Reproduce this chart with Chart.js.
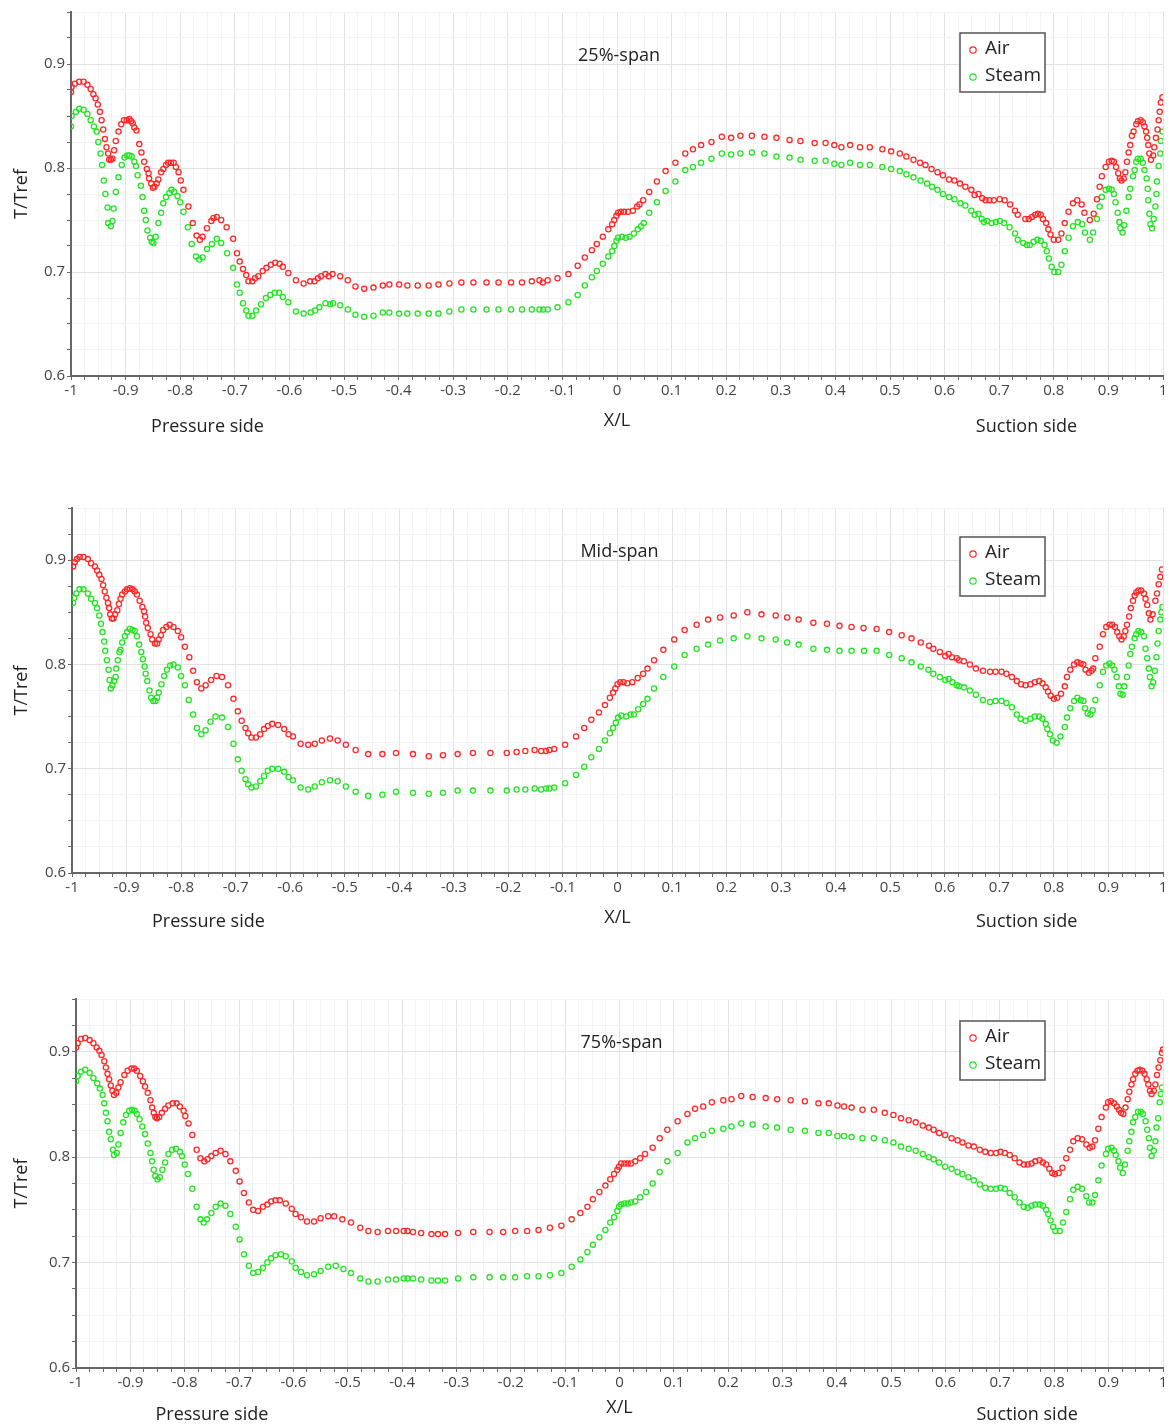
<!DOCTYPE html>
<html>
<head>
<meta charset="utf-8">
<title>T/Tref along the blade surface</title>
<script src="https://cdn.jsdelivr.net/npm/chart.js@4.4.1/dist/chart.umd.min.js"></script>
<style>
  html, body { margin: 0; padding: 0; background: #fff; }
  #page { position: relative; width: 1172px; height: 1428px; overflow: hidden; }
  #page canvas { position: absolute; left: 0; }
</style>
</head>
<body>
<div id="page">
  <canvas id="span25" width="1172" height="438" style="top:0px"></canvas>
  <canvas id="span50" width="1172" height="439" style="top:496px"></canvas>
  <canvas id="span75" width="1172" height="441" style="top:987px"></canvas>
</div>
<script>
// surface temperature ratio, [X/L, T/Tref] pairs, pressure side is X/L < 0
var air25 = [[-1,0.873],[-0.999,0.878],[-0.993,0.881],[-0.985,0.883],[-0.977,0.883],[-0.970,0.880],[-0.964,0.876],[-0.959,0.871],[-0.955,0.867],[-0.951,0.861],[-0.947,0.854],[-0.944,0.846],[-0.941,0.837],[-0.938,0.828],[-0.935,0.820],[-0.932,0.814],[-0.930,0.808],[-0.927,0.808],[-0.924,0.809],[-0.921,0.817],[-0.918,0.826],[-0.913,0.835],[-0.908,0.842],[-0.903,0.846],[-0.898,0.846],[-0.893,0.847],[-0.890,0.845],[-0.887,0.843],[-0.884,0.839],[-0.880,0.836],[-0.875,0.823],[-0.871,0.815],[-0.866,0.806],[-0.861,0.799],[-0.858,0.795],[-0.857,0.790],[-0.853,0.785],[-0.850,0.781],[-0.847,0.782],[-0.843,0.785],[-0.840,0.789],[-0.835,0.796],[-0.831,0.799],[-0.826,0.803],[-0.822,0.805],[-0.817,0.805],[-0.812,0.805],[-0.808,0.801],[-0.803,0.796],[-0.799,0.788],[-0.794,0.779],[-0.785,0.763],[-0.777,0.747],[-0.770,0.735],[-0.764,0.731],[-0.759,0.734],[-0.751,0.742],[-0.743,0.749],[-0.739,0.752],[-0.733,0.753],[-0.725,0.750],[-0.715,0.743],[-0.703,0.732],[-0.696,0.718],[-0.691,0.710],[-0.685,0.703],[-0.679,0.697],[-0.675,0.691],[-0.668,0.691],[-0.663,0.694],[-0.657,0.696],[-0.649,0.701],[-0.642,0.704],[-0.634,0.707],[-0.626,0.709],[-0.618,0.708],[-0.612,0.705],[-0.602,0.699],[-0.588,0.692],[-0.574,0.689],[-0.562,0.691],[-0.554,0.691],[-0.548,0.694],[-0.542,0.696],[-0.534,0.698],[-0.528,0.696],[-0.521,0.698],[-0.507,0.696],[-0.493,0.692],[-0.479,0.686],[-0.463,0.684],[-0.446,0.685],[-0.429,0.687],[-0.417,0.688],[-0.399,0.688],[-0.384,0.687],[-0.365,0.687],[-0.345,0.687],[-0.327,0.688],[-0.307,0.689],[-0.285,0.690],[-0.263,0.690],[-0.239,0.690],[-0.217,0.690],[-0.194,0.690],[-0.174,0.690],[-0.156,0.691],[-0.142,0.692],[-0.136,0.690],[-0.127,0.692],[-0.109,0.694],[-0.089,0.698],[-0.072,0.706],[-0.059,0.714],[-0.046,0.721],[-0.037,0.727],[-0.026,0.734],[-0.016,0.741],[-0.009,0.746],[-0.005,0.750],[-0.001,0.754],[0.002,0.757],[0.007,0.758],[0.013,0.758],[0.020,0.758],[0.029,0.759],[0.037,0.763],[0.041,0.765],[0.048,0.769],[0.059,0.777],[0.073,0.787],[0.089,0.797],[0.107,0.805],[0.125,0.814],[0.139,0.818],[0.154,0.822],[0.173,0.825],[0.192,0.830],[0.209,0.829],[0.226,0.831],[0.247,0.831],[0.270,0.830],[0.292,0.829],[0.316,0.827],[0.336,0.826],[0.362,0.824],[0.382,0.824],[0.398,0.822],[0.411,0.820],[0.427,0.822],[0.445,0.820],[0.463,0.820],[0.486,0.818],[0.502,0.816],[0.518,0.814],[0.530,0.811],[0.543,0.808],[0.555,0.805],[0.565,0.803],[0.576,0.799],[0.587,0.796],[0.597,0.793],[0.608,0.789],[0.618,0.788],[0.628,0.785],[0.638,0.782],[0.649,0.779],[0.655,0.774],[0.662,0.775],[0.669,0.771],[0.675,0.769],[0.682,0.769],[0.690,0.769],[0.701,0.770],[0.710,0.769],[0.720,0.765],[0.729,0.759],[0.734,0.755],[0.748,0.751],[0.754,0.751],[0.760,0.753],[0.766,0.755],[0.771,0.756],[0.776,0.755],[0.780,0.751],[0.786,0.747],[0.790,0.741],[0.794,0.736],[0.800,0.731],[0.808,0.731],[0.814,0.737],[0.820,0.747],[0.827,0.758],[0.835,0.766],[0.843,0.769],[0.851,0.765],[0.856,0.757],[0.866,0.750],[0.873,0.756],[0.879,0.770],[0.884,0.782],[0.888,0.792],[0.895,0.801],[0.901,0.806],[0.906,0.807],[0.910,0.806],[0.914,0.801],[0.918,0.795],[0.921,0.790],[0.924,0.788],[0.928,0.790],[0.931,0.796],[0.934,0.806],[0.937,0.815],[0.940,0.822],[0.943,0.831],[0.946,0.835],[0.951,0.842],[0.954,0.845],[0.959,0.846],[0.963,0.844],[0.966,0.840],[0.969,0.835],[0.971,0.829],[0.973,0.822],[0.975,0.814],[0.978,0.808],[0.982,0.812],[0.984,0.820],[0.987,0.829],[0.990,0.837],[0.992,0.846],[0.994,0.854],[0.996,0.863],[0.999,0.868]];

var steam25 = [[-1,0.840],[-0.999,0.850],[-0.991,0.854],[-0.985,0.857],[-0.977,0.856],[-0.970,0.852],[-0.964,0.846],[-0.958,0.840],[-0.953,0.835],[-0.950,0.825],[-0.946,0.814],[-0.943,0.803],[-0.940,0.788],[-0.937,0.775],[-0.933,0.762],[-0.932,0.747],[-0.927,0.744],[-0.924,0.749],[-0.922,0.761],[-0.918,0.777],[-0.913,0.791],[-0.907,0.803],[-0.902,0.810],[-0.897,0.812],[-0.893,0.812],[-0.889,0.811],[-0.884,0.806],[-0.881,0.802],[-0.878,0.793],[-0.872,0.783],[-0.869,0.772],[-0.866,0.759],[-0.863,0.750],[-0.860,0.740],[-0.855,0.733],[-0.852,0.729],[-0.849,0.728],[-0.845,0.734],[-0.840,0.747],[-0.835,0.757],[-0.831,0.766],[-0.826,0.772],[-0.820,0.776],[-0.816,0.779],[-0.811,0.777],[-0.805,0.773],[-0.800,0.767],[-0.794,0.758],[-0.786,0.743],[-0.779,0.727],[-0.771,0.715],[-0.765,0.712],[-0.759,0.714],[-0.751,0.722],[-0.742,0.727],[-0.733,0.732],[-0.725,0.728],[-0.714,0.718],[-0.703,0.704],[-0.696,0.688],[-0.691,0.680],[-0.685,0.670],[-0.679,0.663],[-0.675,0.658],[-0.668,0.658],[-0.661,0.663],[-0.652,0.669],[-0.643,0.675],[-0.635,0.678],[-0.627,0.680],[-0.619,0.680],[-0.612,0.676],[-0.602,0.671],[-0.588,0.662],[-0.574,0.660],[-0.561,0.661],[-0.553,0.663],[-0.545,0.666],[-0.534,0.670],[-0.525,0.669],[-0.520,0.670],[-0.507,0.668],[-0.493,0.664],[-0.479,0.659],[-0.463,0.657],[-0.446,0.658],[-0.429,0.661],[-0.417,0.661],[-0.399,0.660],[-0.384,0.660],[-0.365,0.660],[-0.345,0.660],[-0.327,0.660],[-0.307,0.662],[-0.285,0.664],[-0.263,0.664],[-0.239,0.664],[-0.217,0.664],[-0.194,0.664],[-0.174,0.664],[-0.156,0.664],[-0.142,0.664],[-0.135,0.664],[-0.127,0.664],[-0.109,0.666],[-0.089,0.671],[-0.072,0.678],[-0.059,0.687],[-0.046,0.695],[-0.037,0.701],[-0.026,0.708],[-0.016,0.715],[-0.009,0.720],[-0.005,0.725],[-0.001,0.730],[0.002,0.733],[0.009,0.734],[0.016,0.733],[0.023,0.734],[0.031,0.737],[0.038,0.741],[0.044,0.744],[0.049,0.747],[0.059,0.757],[0.073,0.767],[0.089,0.778],[0.107,0.787],[0.125,0.798],[0.139,0.801],[0.154,0.805],[0.173,0.809],[0.192,0.814],[0.209,0.813],[0.226,0.814],[0.247,0.815],[0.270,0.814],[0.292,0.811],[0.316,0.810],[0.336,0.808],[0.362,0.807],[0.382,0.807],[0.398,0.804],[0.411,0.803],[0.427,0.805],[0.445,0.803],[0.463,0.803],[0.486,0.801],[0.502,0.799],[0.518,0.797],[0.530,0.794],[0.543,0.791],[0.556,0.788],[0.568,0.785],[0.577,0.782],[0.587,0.779],[0.597,0.775],[0.608,0.772],[0.618,0.770],[0.629,0.766],[0.638,0.764],[0.649,0.759],[0.655,0.755],[0.662,0.756],[0.668,0.751],[0.672,0.748],[0.678,0.749],[0.686,0.747],[0.694,0.748],[0.701,0.749],[0.709,0.747],[0.719,0.743],[0.729,0.737],[0.734,0.731],[0.744,0.728],[0.751,0.726],[0.756,0.726],[0.763,0.729],[0.770,0.731],[0.776,0.730],[0.783,0.726],[0.787,0.720],[0.791,0.713],[0.796,0.705],[0.801,0.700],[0.808,0.700],[0.814,0.707],[0.820,0.720],[0.827,0.733],[0.835,0.744],[0.844,0.748],[0.852,0.746],[0.857,0.738],[0.866,0.731],[0.872,0.738],[0.879,0.751],[0.884,0.763],[0.888,0.772],[0.895,0.779],[0.901,0.780],[0.906,0.779],[0.910,0.775],[0.913,0.767],[0.917,0.757],[0.920,0.748],[0.922,0.742],[0.926,0.738],[0.929,0.745],[0.933,0.759],[0.937,0.772],[0.940,0.780],[0.945,0.792],[0.948,0.798],[0.951,0.806],[0.954,0.809],[0.959,0.809],[0.963,0.805],[0.966,0.798],[0.970,0.790],[0.972,0.780],[0.973,0.769],[0.975,0.756],[0.977,0.746],[0.980,0.742],[0.983,0.751],[0.986,0.763],[0.988,0.775],[0.989,0.787],[0.992,0.802],[0.995,0.814],[0.996,0.826],[0.999,0.835]];

var airMid = [[-0.998,0.894],[-0.995,0.898],[-0.991,0.901],[-0.986,0.903],[-0.979,0.903],[-0.971,0.901],[-0.965,0.897],[-0.958,0.894],[-0.954,0.890],[-0.950,0.886],[-0.946,0.882],[-0.943,0.876],[-0.940,0.870],[-0.937,0.864],[-0.934,0.859],[-0.932,0.854],[-0.930,0.848],[-0.927,0.844],[-0.924,0.844],[-0.921,0.848],[-0.917,0.852],[-0.914,0.858],[-0.911,0.863],[-0.908,0.867],[-0.903,0.870],[-0.899,0.872],[-0.894,0.873],[-0.889,0.872],[-0.885,0.870],[-0.881,0.867],[-0.876,0.861],[-0.871,0.855],[-0.868,0.851],[-0.866,0.846],[-0.864,0.840],[-0.861,0.835],[-0.856,0.829],[-0.853,0.824],[-0.848,0.820],[-0.844,0.820],[-0.841,0.824],[-0.837,0.828],[-0.833,0.833],[-0.827,0.836],[-0.821,0.838],[-0.814,0.836],[-0.806,0.832],[-0.800,0.826],[-0.793,0.817],[-0.785,0.807],[-0.778,0.794],[-0.771,0.783],[-0.763,0.777],[-0.755,0.780],[-0.745,0.785],[-0.735,0.789],[-0.725,0.788],[-0.714,0.780],[-0.704,0.767],[-0.696,0.755],[-0.689,0.746],[-0.682,0.739],[-0.677,0.734],[-0.671,0.730],[-0.663,0.730],[-0.655,0.733],[-0.648,0.738],[-0.641,0.741],[-0.633,0.743],[-0.622,0.742],[-0.611,0.738],[-0.603,0.733],[-0.595,0.731],[-0.581,0.724],[-0.567,0.723],[-0.555,0.724],[-0.542,0.727],[-0.527,0.729],[-0.513,0.727],[-0.498,0.723],[-0.480,0.718],[-0.457,0.714],[-0.431,0.714],[-0.406,0.715],[-0.375,0.714],[-0.346,0.712],[-0.320,0.713],[-0.293,0.714],[-0.265,0.715],[-0.233,0.715],[-0.203,0.715],[-0.185,0.716],[-0.169,0.717],[-0.152,0.718],[-0.140,0.717],[-0.131,0.717],[-0.125,0.718],[-0.116,0.719],[-0.096,0.723],[-0.076,0.731],[-0.061,0.739],[-0.048,0.747],[-0.034,0.754],[-0.023,0.761],[-0.014,0.768],[-0.008,0.773],[-0.004,0.777],[0.000,0.781],[0.005,0.783],[0.011,0.783],[0.018,0.782],[0.027,0.783],[0.037,0.787],[0.047,0.791],[0.055,0.796],[0.067,0.804],[0.084,0.814],[0.104,0.824],[0.123,0.833],[0.145,0.838],[0.166,0.843],[0.188,0.845],[0.213,0.847],[0.238,0.850],[0.264,0.848],[0.290,0.847],[0.311,0.845],[0.332,0.843],[0.359,0.840],[0.384,0.839],[0.407,0.837],[0.429,0.836],[0.451,0.835],[0.475,0.834],[0.498,0.831],[0.521,0.828],[0.539,0.825],[0.556,0.821],[0.571,0.818],[0.579,0.815],[0.591,0.812],[0.601,0.808],[0.607,0.810],[0.613,0.807],[0.622,0.806],[0.626,0.804],[0.635,0.803],[0.646,0.800],[0.657,0.796],[0.670,0.794],[0.683,0.793],[0.693,0.793],[0.704,0.793],[0.713,0.791],[0.723,0.788],[0.732,0.784],[0.740,0.781],[0.748,0.780],[0.757,0.781],[0.765,0.783],[0.773,0.784],[0.779,0.782],[0.785,0.778],[0.789,0.774],[0.794,0.770],[0.800,0.767],[0.806,0.768],[0.813,0.772],[0.820,0.779],[0.824,0.788],[0.830,0.795],[0.837,0.800],[0.843,0.802],[0.849,0.801],[0.854,0.800],[0.858,0.795],[0.864,0.792],[0.869,0.794],[0.872,0.796],[0.876,0.806],[0.884,0.817],[0.890,0.829],[0.896,0.836],[0.902,0.838],[0.907,0.838],[0.912,0.836],[0.916,0.831],[0.920,0.827],[0.924,0.824],[0.928,0.827],[0.931,0.832],[0.934,0.838],[0.938,0.846],[0.941,0.854],[0.945,0.861],[0.948,0.866],[0.951,0.869],[0.955,0.871],[0.960,0.871],[0.965,0.868],[0.968,0.863],[0.971,0.857],[0.974,0.849],[0.977,0.843],[0.981,0.848],[0.986,0.861],[0.989,0.868],[0.992,0.877],[0.995,0.884],[0.998,0.891]];

var steamMid = [[-0.998,0.859],[-0.996,0.864],[-0.992,0.868],[-0.986,0.872],[-0.979,0.872],[-0.971,0.868],[-0.965,0.863],[-0.958,0.859],[-0.954,0.854],[-0.950,0.847],[-0.947,0.839],[-0.944,0.831],[-0.941,0.822],[-0.939,0.813],[-0.936,0.804],[-0.933,0.795],[-0.931,0.785],[-0.929,0.777],[-0.926,0.780],[-0.923,0.784],[-0.920,0.788],[-0.919,0.796],[-0.916,0.804],[-0.913,0.812],[-0.911,0.814],[-0.908,0.821],[-0.903,0.827],[-0.899,0.831],[-0.894,0.834],[-0.889,0.833],[-0.885,0.832],[-0.881,0.827],[-0.877,0.819],[-0.873,0.812],[-0.870,0.805],[-0.867,0.798],[-0.865,0.791],[-0.862,0.784],[-0.858,0.775],[-0.855,0.768],[-0.851,0.765],[-0.847,0.765],[-0.844,0.768],[-0.841,0.773],[-0.836,0.781],[-0.831,0.789],[-0.826,0.795],[-0.820,0.799],[-0.814,0.800],[-0.806,0.797],[-0.800,0.789],[-0.793,0.780],[-0.786,0.766],[-0.778,0.752],[-0.771,0.739],[-0.763,0.733],[-0.755,0.737],[-0.746,0.745],[-0.737,0.750],[-0.725,0.749],[-0.714,0.740],[-0.704,0.724],[-0.696,0.709],[-0.689,0.698],[-0.682,0.690],[-0.677,0.685],[-0.671,0.682],[-0.663,0.683],[-0.655,0.688],[-0.648,0.693],[-0.641,0.698],[-0.633,0.700],[-0.622,0.700],[-0.611,0.697],[-0.603,0.692],[-0.595,0.689],[-0.581,0.682],[-0.567,0.680],[-0.555,0.683],[-0.542,0.687],[-0.527,0.689],[-0.513,0.688],[-0.498,0.683],[-0.480,0.678],[-0.457,0.674],[-0.431,0.675],[-0.406,0.678],[-0.375,0.677],[-0.346,0.676],[-0.320,0.677],[-0.293,0.679],[-0.265,0.679],[-0.233,0.679],[-0.203,0.679],[-0.185,0.680],[-0.169,0.680],[-0.152,0.681],[-0.140,0.680],[-0.131,0.681],[-0.125,0.681],[-0.116,0.682],[-0.096,0.686],[-0.076,0.694],[-0.061,0.702],[-0.048,0.711],[-0.034,0.719],[-0.023,0.727],[-0.014,0.734],[-0.008,0.739],[-0.003,0.744],[0.001,0.749],[0.007,0.751],[0.016,0.750],[0.024,0.752],[0.030,0.752],[0.038,0.757],[0.047,0.762],[0.055,0.767],[0.067,0.777],[0.084,0.788],[0.104,0.798],[0.123,0.809],[0.145,0.815],[0.166,0.819],[0.188,0.823],[0.213,0.825],[0.238,0.827],[0.264,0.825],[0.290,0.824],[0.311,0.821],[0.332,0.819],[0.359,0.815],[0.384,0.814],[0.407,0.813],[0.429,0.813],[0.452,0.813],[0.475,0.813],[0.498,0.809],[0.521,0.806],[0.539,0.802],[0.556,0.798],[0.570,0.795],[0.579,0.791],[0.591,0.788],[0.601,0.785],[0.607,0.786],[0.614,0.783],[0.622,0.780],[0.626,0.779],[0.635,0.778],[0.646,0.775],[0.657,0.771],[0.670,0.766],[0.683,0.764],[0.693,0.765],[0.704,0.765],[0.713,0.763],[0.723,0.759],[0.732,0.752],[0.739,0.748],[0.748,0.746],[0.757,0.748],[0.765,0.750],[0.773,0.750],[0.779,0.748],[0.785,0.743],[0.788,0.738],[0.793,0.733],[0.798,0.727],[0.805,0.725],[0.812,0.731],[0.820,0.740],[0.824,0.749],[0.830,0.758],[0.837,0.765],[0.843,0.768],[0.849,0.766],[0.854,0.765],[0.857,0.758],[0.862,0.753],[0.867,0.752],[0.871,0.756],[0.876,0.766],[0.884,0.780],[0.890,0.793],[0.896,0.799],[0.902,0.801],[0.907,0.799],[0.911,0.795],[0.915,0.788],[0.919,0.779],[0.922,0.772],[0.926,0.771],[0.929,0.779],[0.934,0.788],[0.937,0.799],[0.940,0.810],[0.943,0.817],[0.948,0.825],[0.951,0.829],[0.955,0.832],[0.960,0.831],[0.965,0.827],[0.968,0.815],[0.971,0.806],[0.974,0.796],[0.976,0.788],[0.979,0.779],[0.982,0.783],[0.985,0.794],[0.988,0.807],[0.990,0.820],[0.992,0.832],[0.995,0.843],[0.997,0.850],[0.999,0.855]];

var air75 = [[-1.000,0.904],[-0.997,0.908],[-0.991,0.912],[-0.983,0.913],[-0.975,0.911],[-0.968,0.908],[-0.962,0.904],[-0.957,0.901],[-0.953,0.897],[-0.948,0.891],[-0.945,0.885],[-0.942,0.879],[-0.939,0.874],[-0.936,0.868],[-0.933,0.863],[-0.930,0.859],[-0.926,0.861],[-0.922,0.866],[-0.918,0.871],[-0.911,0.878],[-0.905,0.882],[-0.898,0.884],[-0.893,0.884],[-0.888,0.882],[-0.882,0.877],[-0.877,0.872],[-0.873,0.867],[-0.868,0.861],[-0.863,0.854],[-0.860,0.847],[-0.857,0.842],[-0.854,0.838],[-0.851,0.837],[-0.847,0.838],[-0.842,0.842],[-0.836,0.846],[-0.830,0.849],[-0.822,0.851],[-0.815,0.851],[-0.809,0.848],[-0.802,0.844],[-0.799,0.839],[-0.793,0.832],[-0.786,0.821],[-0.778,0.807],[-0.771,0.799],[-0.764,0.796],[-0.758,0.798],[-0.751,0.801],[-0.743,0.804],[-0.734,0.806],[-0.725,0.803],[-0.716,0.796],[-0.706,0.787],[-0.699,0.777],[-0.691,0.766],[-0.682,0.757],[-0.674,0.750],[-0.665,0.749],[-0.656,0.753],[-0.648,0.755],[-0.641,0.758],[-0.633,0.759],[-0.625,0.759],[-0.614,0.756],[-0.603,0.751],[-0.596,0.746],[-0.586,0.743],[-0.575,0.739],[-0.562,0.739],[-0.550,0.742],[-0.536,0.744],[-0.525,0.744],[-0.510,0.741],[-0.494,0.738],[-0.477,0.733],[-0.462,0.730],[-0.445,0.729],[-0.426,0.730],[-0.411,0.730],[-0.397,0.730],[-0.390,0.730],[-0.380,0.729],[-0.365,0.728],[-0.346,0.727],[-0.334,0.727],[-0.321,0.727],[-0.297,0.728],[-0.269,0.729],[-0.239,0.729],[-0.214,0.729],[-0.192,0.730],[-0.170,0.730],[-0.149,0.731],[-0.128,0.733],[-0.107,0.735],[-0.088,0.741],[-0.072,0.747],[-0.059,0.753],[-0.049,0.760],[-0.037,0.767],[-0.026,0.773],[-0.017,0.779],[-0.010,0.784],[-0.004,0.788],[-0.001,0.791],[0.003,0.794],[0.009,0.794],[0.015,0.794],[0.021,0.794],[0.029,0.796],[0.038,0.799],[0.047,0.803],[0.061,0.809],[0.074,0.818],[0.088,0.826],[0.107,0.834],[0.125,0.841],[0.139,0.846],[0.154,0.848],[0.170,0.852],[0.191,0.854],[0.206,0.855],[0.224,0.858],[0.245,0.857],[0.269,0.856],[0.290,0.855],[0.315,0.854],[0.341,0.853],[0.366,0.851],[0.385,0.851],[0.401,0.849],[0.413,0.848],[0.427,0.847],[0.447,0.845],[0.468,0.845],[0.488,0.842],[0.504,0.840],[0.518,0.837],[0.532,0.835],[0.545,0.833],[0.558,0.830],[0.569,0.828],[0.578,0.826],[0.588,0.823],[0.599,0.821],[0.611,0.818],[0.622,0.816],[0.631,0.814],[0.642,0.811],[0.652,0.810],[0.663,0.807],[0.673,0.805],[0.683,0.804],[0.693,0.804],[0.701,0.805],[0.709,0.804],[0.718,0.802],[0.727,0.799],[0.736,0.795],[0.744,0.793],[0.751,0.793],[0.758,0.794],[0.765,0.796],[0.773,0.797],[0.779,0.795],[0.785,0.793],[0.791,0.789],[0.796,0.785],[0.801,0.784],[0.808,0.785],[0.815,0.790],[0.822,0.799],[0.829,0.807],[0.835,0.815],[0.843,0.818],[0.851,0.817],[0.859,0.812],[0.865,0.809],[0.870,0.810],[0.875,0.816],[0.881,0.827],[0.887,0.838],[0.895,0.847],[0.899,0.852],[0.904,0.853],[0.910,0.851],[0.915,0.848],[0.919,0.845],[0.923,0.842],[0.927,0.841],[0.931,0.847],[0.935,0.855],[0.938,0.862],[0.942,0.869],[0.945,0.874],[0.949,0.879],[0.953,0.882],[0.957,0.883],[0.962,0.882],[0.966,0.879],[0.970,0.874],[0.973,0.869],[0.976,0.863],[0.979,0.860],[0.983,0.863],[0.986,0.869],[0.989,0.878],[0.992,0.885],[0.995,0.892],[0.998,0.899],[1.000,0.902]];

var steam75 = [[-1.000,0.872],[-0.997,0.877],[-0.991,0.881],[-0.983,0.883],[-0.975,0.880],[-0.968,0.875],[-0.961,0.870],[-0.956,0.865],[-0.951,0.859],[-0.948,0.851],[-0.945,0.842],[-0.942,0.834],[-0.939,0.824],[-0.936,0.817],[-0.932,0.807],[-0.930,0.802],[-0.925,0.804],[-0.922,0.812],[-0.918,0.823],[-0.913,0.833],[-0.908,0.840],[-0.902,0.844],[-0.897,0.845],[-0.892,0.844],[-0.888,0.841],[-0.883,0.836],[-0.878,0.829],[-0.873,0.822],[-0.868,0.813],[-0.863,0.804],[-0.860,0.796],[-0.857,0.788],[-0.854,0.782],[-0.850,0.779],[-0.846,0.781],[-0.841,0.788],[-0.836,0.795],[-0.830,0.803],[-0.823,0.807],[-0.816,0.808],[-0.809,0.805],[-0.805,0.801],[-0.800,0.793],[-0.794,0.784],[-0.786,0.770],[-0.778,0.753],[-0.771,0.741],[-0.765,0.738],[-0.759,0.741],[-0.751,0.747],[-0.743,0.753],[-0.734,0.756],[-0.725,0.754],[-0.716,0.746],[-0.706,0.734],[-0.699,0.722],[-0.691,0.708],[-0.682,0.697],[-0.674,0.690],[-0.665,0.691],[-0.656,0.695],[-0.648,0.700],[-0.641,0.704],[-0.633,0.707],[-0.623,0.708],[-0.614,0.706],[-0.603,0.701],[-0.596,0.695],[-0.586,0.691],[-0.575,0.688],[-0.562,0.689],[-0.550,0.692],[-0.536,0.696],[-0.522,0.697],[-0.508,0.694],[-0.494,0.690],[-0.477,0.685],[-0.462,0.682],[-0.445,0.682],[-0.426,0.684],[-0.411,0.684],[-0.397,0.685],[-0.390,0.685],[-0.380,0.685],[-0.365,0.684],[-0.346,0.683],[-0.334,0.683],[-0.321,0.683],[-0.297,0.685],[-0.269,0.686],[-0.239,0.686],[-0.214,0.686],[-0.192,0.686],[-0.170,0.687],[-0.149,0.687],[-0.128,0.688],[-0.107,0.690],[-0.088,0.696],[-0.072,0.703],[-0.059,0.710],[-0.049,0.717],[-0.037,0.724],[-0.026,0.731],[-0.017,0.738],[-0.010,0.743],[-0.004,0.749],[-0.001,0.753],[0.003,0.755],[0.009,0.756],[0.015,0.756],[0.021,0.757],[0.029,0.758],[0.038,0.762],[0.049,0.767],[0.061,0.775],[0.074,0.786],[0.088,0.796],[0.107,0.804],[0.125,0.814],[0.139,0.818],[0.154,0.821],[0.170,0.825],[0.191,0.827],[0.206,0.829],[0.224,0.832],[0.245,0.831],[0.269,0.829],[0.290,0.828],[0.315,0.826],[0.341,0.825],[0.366,0.823],[0.385,0.823],[0.401,0.820],[0.413,0.820],[0.427,0.819],[0.447,0.818],[0.468,0.818],[0.488,0.816],[0.504,0.814],[0.518,0.810],[0.532,0.808],[0.545,0.806],[0.558,0.803],[0.569,0.800],[0.578,0.798],[0.588,0.795],[0.599,0.791],[0.611,0.789],[0.622,0.786],[0.631,0.784],[0.642,0.781],[0.652,0.778],[0.663,0.774],[0.673,0.771],[0.683,0.770],[0.693,0.770],[0.701,0.771],[0.709,0.770],[0.718,0.766],[0.727,0.762],[0.736,0.757],[0.744,0.753],[0.751,0.752],[0.758,0.754],[0.765,0.755],[0.773,0.755],[0.779,0.754],[0.785,0.750],[0.789,0.746],[0.793,0.740],[0.798,0.734],[0.802,0.730],[0.810,0.730],[0.816,0.738],[0.822,0.748],[0.829,0.760],[0.835,0.769],[0.843,0.772],[0.851,0.770],[0.859,0.763],[0.864,0.757],[0.870,0.757],[0.875,0.764],[0.881,0.778],[0.887,0.792],[0.895,0.803],[0.899,0.808],[0.905,0.809],[0.910,0.806],[0.913,0.802],[0.918,0.796],[0.921,0.790],[0.926,0.785],[0.930,0.793],[0.935,0.806],[0.938,0.815],[0.942,0.824],[0.945,0.833],[0.949,0.838],[0.954,0.843],[0.959,0.843],[0.963,0.841],[0.968,0.834],[0.971,0.826],[0.974,0.818],[0.976,0.809],[0.979,0.801],[0.983,0.806],[0.986,0.815],[0.988,0.828],[0.991,0.837],[0.994,0.852],[0.996,0.860],[0.998,0.866]];

// labelled ticks; the minor ones in between get grid lines only
var xMajorTicks = [-1, -0.9, -0.8, -0.7, -0.6, -0.5, -0.4, -0.3, -0.2, -0.1, 0, 0.1, 0.2, 0.3, 0.4, 0.5, 0.6, 0.7, 0.8, 0.9, 1];
var yMajorTicks = [0.6, 0.7, 0.8, 0.9];
var seriesNames = ['Air', 'Steam'];
var seriesColors = ['rgb(255,40,40)', 'rgb(36,228,36)'];

var FONT = '"Open Sans", "DejaVu Sans", sans-serif';
Chart.defaults.font.family = FONT;

function majorLabel(list, v) {
  for (var i = 0; i < list.length; i++) {
    if (Math.abs(list[i] - v) < 1e-6) return String(list[i]);
  }
  return '';
}

function isMajor(list, v) {
  return majorLabel(list, v) !== '';
}

// span name, side names and the boxed legend are drawn over the plot
var panelDecor = {
  id: 'panelDecor',
  afterDraw: function(chart, args, opts) {
    var ctx = chart.ctx, a = chart.chartArea, xs = chart.scales.x;
    ctx.save();
    ctx.fillStyle = '#222';
    ctx.textAlign = 'center';
    ctx.textBaseline = 'middle';
    ctx.font = '18px ' + FONT;
    ctx.fillText(opts.title, (a.left + a.right) / 2 + 2, a.top + 44);
    ctx.fillText('Pressure side', xs.getPixelForValue(-0.75), a.bottom + opts.sideGap);
    ctx.fillText('Suction side', xs.getPixelForValue(0.75), a.bottom + opts.sideGap);

    var lx = a.right - 203, ly = a.top + opts.legendGap;
    ctx.fillStyle = '#fff';
    ctx.fillRect(lx, ly, 85, 59);
    ctx.strokeStyle = '#555';
    ctx.lineWidth = 1.5;
    ctx.strokeRect(lx, ly, 85, 59);
    ctx.textAlign = 'left';
    ctx.font = '19px ' + FONT;
    chart.data.datasets.forEach(function(ds, i) {
      var cy = ly + 16 + i * 27;
      ctx.beginPath();
      ctx.arc(lx + 13, cy + 1, 3.2, 0, Math.PI * 2);
      ctx.strokeStyle = ds.borderColor;
      ctx.lineWidth = 1.2;
      ctx.stroke();
      ctx.fillStyle = '#222';
      ctx.fillText(ds.label, lx + 25, cy);
    });
    ctx.restore();
  }
};

function toPoints(pairs) {
  return pairs.map(function(p) { return { x: p[0], y: p[1] }; });
}

function buildPanel(id, air, steam, title, lay) {
  var canvas = document.getElementById(id);
  if (!canvas) {
    console.error('canvas ' + id + ' not found');
    return;
  }
  var sets = [air, steam].map(function(pairs, i) {
    return {
      label: seriesNames[i],
      data: toPoints(pairs),
      borderColor: seriesColors[i],
      backgroundColor: 'rgba(0,0,0,0)',
      pointRadius: 2.6,
      pointBorderWidth: 1.3,
      pointHoverRadius: 2.6,
      showLine: false
    };
  });

  new Chart(canvas.getContext('2d'), {
    type: 'scatter',
    data: { datasets: sets },
    plugins: [panelDecor],
    options: {
      responsive: false,
      animation: false,
      devicePixelRatio: 1,
      layout: { padding: { top: 12, right: 9, left: 0, bottom: 0 } },
      scales: {
        x: {
          type: 'linear',
          min: -1,
          max: 1,
          afterFit: function(s) { s.height = lay.xHeight; },
          ticks: {
            stepSize: 0.025,
            autoSkip: false,
            maxRotation: 0,
            minRotation: 0,
            padding: 2,
            color: '#444',
            font: { size: 15 },
            callback: function(v) { return majorLabel(xMajorTicks, v); }
          },
          grid: {
            color: function(c) { return isMajor(xMajorTicks, c.tick.value) ? '#e2e2e2' : '#f3f3f3'; },
            tickLength: 4,
            tickColor: '#666'
          },
          border: { color: '#666', width: 2 },
          title: {
            display: true,
            text: 'X/L',
            color: '#222',
            font: { size: 18 },
            padding: { top: 0, bottom: lay.xTitlePad }
          }
        },
        y: {
          type: 'linear',
          min: 0.6,
          max: 0.95,
          afterFit: function(s) { s.width = lay.yWidth; },
          ticks: {
            stepSize: 0.025,
            autoSkip: false,
            padding: 2,
            color: '#444',
            font: { size: 15 },
            callback: function(v) { return majorLabel(yMajorTicks, v); }
          },
          grid: {
            color: function(c) { return isMajor(yMajorTicks, c.tick.value) ? '#e2e2e2' : '#f3f3f3'; },
            tickLength: 4,
            tickColor: '#666'
          },
          border: { color: '#666', width: 2 },
          title: {
            display: true,
            text: 'T/Tref',
            color: '#222',
            font: { size: 18 },
            padding: { top: 11, bottom: 0 }
          }
        }
      },
      plugins: {
        legend: { display: false },
        tooltip: { enabled: false },
        panelDecor: { title: title, sideGap: lay.sideGap, legendGap: lay.legendGap }
      }
    }
  });
}

buildPanel('span25', air25, steam25, '25%-span', { yWidth: 71, xHeight: 62, xTitlePad: 6, sideGap: 51, legendGap: 21 });
buildPanel('span50', airMid, steamMid, 'Mid-span', { yWidth: 72, xHeight: 62, xTitlePad: 6, sideGap: 49, legendGap: 29 });
buildPanel('span75', air75, steam75, '75%-span', { yWidth: 76, xHeight: 60, xTitlePad: 9, sideGap: 47, legendGap: 22 });
</script>
</body>
</html>
